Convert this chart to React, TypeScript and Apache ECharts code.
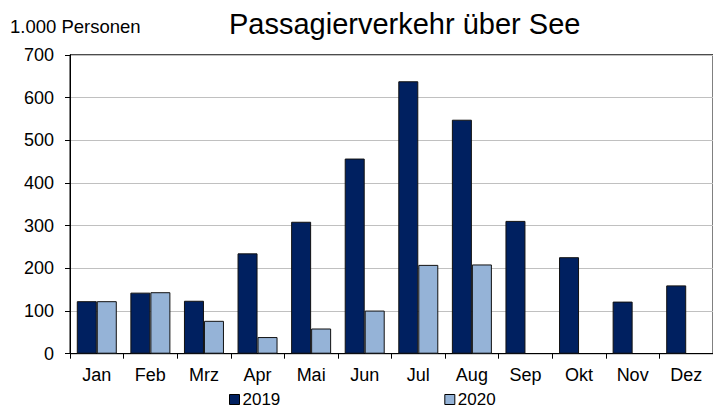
import React, { useEffect, useRef } from "react";
import * as echarts from "echarts";

const months = ["Jan", "Feb", "Mrz", "Apr", "Mai", "Jun", "Jul", "Aug", "Sep", "Okt", "Nov", "Dez"];
const values2019 = [123, 143, 124, 235, 309, 457, 638, 548, 311, 226, 122, 160];
const values2020 = [123, 144, 77, 39, 59, 101, 208, 209, null, null, null, null];
const seriesNames = ["2019", "2020"];
const titleText = "Passagierverkehr über See";
const unitText = "1.000 Personen";

const FONT = "'Liberation Sans', Arial, sans-serif";

export default function App() {
  const ref = useRef<HTMLDivElement>(null);
  useEffect(() => {
    if (!ref.current) return;
    const chart = echarts.init(ref.current, null, { renderer: "svg" });
    chart.setOption({
      animation: false,
      backgroundColor: "#ffffff",
      textStyle: { fontFamily: FONT, color: "#000" },
      graphic: [
        {
          type: "text",
          x: 229,
          y: 24,
          style: {
            text: titleText,
            font: `29px ${FONT}`,
            fill: "#000",
            verticalAlign: "middle",
            align: "left",
          },
        },
        {
          type: "text",
          x: 10,
          y: 26.5,
          style: {
            text: unitText,
            font: `18.5px ${FONT}`,
            fill: "#000",
            verticalAlign: "middle",
            align: "left",
          },
        },
      ],
      legend: {
        left: 229,
        top: 391,
        padding: 0,
        itemWidth: 10,
        itemHeight: 10,
        itemGap: 164,
        icon: "rect",
        textStyle: {
          fontSize: 17,
          fontFamily: FONT,
          color: "#000",
          padding: [0, 0, 0, -2],
        },
        itemStyle: { borderColor: "#000", borderWidth: 1 },
        data: seriesNames,
      },
      grid: {
        left: 70,
        top: 54.8,
        right: -8.3,
        bottom: 57.3,
        show: true,
        borderColor: "#000",
        borderWidth: 1,
        backgroundColor: "transparent",
      },
      xAxis: {
        type: "category",
        data: months,
        axisLine: { show: true, lineStyle: { color: "#000", width: 1 } },
        axisTick: { show: true, length: 5, lineStyle: { color: "#000" } },
        axisLabel: { fontSize: 18, fontFamily: FONT, color: "#000", margin: 12 },
        splitLine: { show: false },
      },
      yAxis: {
        type: "value",
        min: 0,
        max: 700,
        interval: 100,
        axisLine: { show: true, lineStyle: { color: "#000", width: 1 } },
        axisTick: { show: true, length: 5, lineStyle: { color: "#000" } },
        axisLabel: { fontSize: 18, fontFamily: FONT, color: "#000", margin: 16 },
        splitLine: { show: true, lineStyle: { color: "#c0c0c0", width: 1 } },
      },
      series: [
        {
          name: seriesNames[0],
          type: "bar",
          data: values2019,
          barWidth: 20,
          barGap: "0%",
          itemStyle: { color: "#002060", borderColor: "#111", borderWidth: 1 },
        },
        {
          name: seriesNames[1],
          type: "bar",
          data: values2020,
          barWidth: 20,
          barGap: "0%",
          itemStyle: { color: "#95B3D7", borderColor: "#111", borderWidth: 1 },
        },
      ],
    });
    return () => chart.dispose();
  }, []);
  return (
    <div
      ref={ref}
      style={{ position: "fixed", left: 0, top: 0, width: 713, height: 411 }}
    />
  );
}
